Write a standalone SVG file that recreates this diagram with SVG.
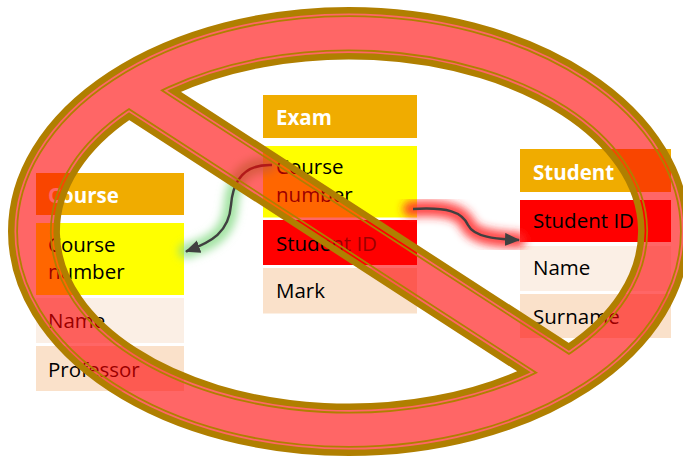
<svg xmlns="http://www.w3.org/2000/svg" xmlns:xlink="http://www.w3.org/1999/xlink" width="683" height="459" viewBox="0 0 683 459">
  <style>
    .hdr { fill: #F0AC00; }
    .key { fill: #FFFF00; }
    .pk  { fill: #FF0000; }
    .lt  { fill: #FBEFE5; }
    .pc  { fill: #FAE1CA; }
    text { font-family: "Open Sans", "Noto Sans", "Liberation Sans", sans-serif; font-size: 20.5px; fill: #000; }
    text.ht { font-weight: bold; fill: #FFFFFF; }
    .wire { fill: none; stroke: #404040; stroke-width: 2.5; marker-end: url(#head); }
    .glow { fill: none; stroke-linecap: round; filter: url(#soft); }
  </style>
  <defs>
    <marker id="head" markerUnits="userSpaceOnUse" markerWidth="16" markerHeight="14" refX="14" refY="6.5" orient="auto">
      <path d="M0,0 L15,6.5 L0,13 Z" fill="#404040"/>
    </marker>
    <filter id="soft" x="-30%" y="-30%" width="160%" height="160%">
      <feGaussianBlur stdDeviation="4.5"/>
    </filter>
    <!-- prohibition sign: ellipse ring with a diagonal bar (two holes) -->
    <path id="sign" d="M13,231.5 A336,219.5 0 1 1 685,231.5 A336,219.5 0 1 1 13,231.5 Z
                       M170.37,90.91 A294,177 0 0 1 568.89,349 Z
                       M527.63,372.09 A294,177 0 0 1 129.11,114 Z"/>
    <clipPath id="signClip">
      <use xlink:href="#sign" clip-rule="evenodd"/>
    </clipPath>
    <!-- cuts a thin line into the outline, just inside the edge -->
    <mask id="gap" maskUnits="userSpaceOnUse" x="-10" y="-10" width="703" height="479">
      <rect x="-10" y="-10" width="703" height="479" fill="#FFFFFF"/>
      <use xlink:href="#sign" fill="none" stroke="#000000" stroke-width="6.4" clip-path="url(#signClip)"/>
      <use xlink:href="#sign" fill="none" stroke="#FFFFFF" stroke-width="3"/>
    </mask>
  </defs>

  <g id="course">
    <rect class="hdr" x="36" y="173" width="148" height="42"/>
    <text class="ht" x="48" y="202.5">Course</text>
    <rect class="key" x="36" y="223" width="148" height="72"/>
    <text x="48" y="251.5">Course</text>
    <text x="48" y="279">number</text>
    <rect class="lt" x="36" y="298" width="148" height="45"/>
    <text x="48" y="327.5">Name</text>
    <rect class="pc" x="36" y="346" width="148" height="45"/>
    <text x="48" y="376.5">Professor</text>
  </g>

  <g id="exam">
    <rect class="hdr" x="263" y="95" width="154" height="43"/>
    <text class="ht" x="276" y="124.5">Exam</text>
    <rect class="key" x="263" y="146" width="154" height="71.5"/>
    <text x="276" y="174">Course</text>
    <text x="276" y="202">number</text>
    <rect class="pk" x="263" y="220" width="154" height="45"/>
    <text x="276" y="250.5">Student ID</text>
    <rect class="pc" x="263" y="268" width="154" height="45.5"/>
    <text x="276" y="298">Mark</text>
  </g>

  <g id="student">
    <rect class="hdr" x="520" y="149" width="151" height="43"/>
    <text class="ht" x="533" y="179.5">Student</text>
    <rect class="pk" x="520" y="200" width="151" height="42"/>
    <text x="533" y="227.5">Student ID</text>
    <rect class="lt" x="520" y="246" width="151" height="45"/>
    <text x="533" y="275">Name</text>
    <rect class="pc" x="520" y="294" width="151" height="44"/>
    <text x="533" y="324">Surname</text>
  </g>

  <g id="connectors">
    <path class="glow" d="M268,165 C245,164 233,180 231,205 C229,232 214,243 186,251" stroke="#8CDC8C" stroke-opacity="0.8" stroke-width="15"/>
    <path class="glow" d="M411,209 C448,207 462,212 468,225 C474,237 495,239 518,240" stroke="#FF2A2A" stroke-opacity="0.85" stroke-width="16"/>
    <path class="wire" d="M272,165 C245,164 233,180 231,205 C229,232 212,242 186,251.5"/>
    <path class="wire" d="M413,209 C448,207 462,212 468,225 C474,237 495,239 519,240"/>
  </g>

  <g id="no-sign">
    <use xlink:href="#sign" fill="#FF0000" fill-opacity="0.6" fill-rule="evenodd"/>
    <use xlink:href="#sign" fill="none" stroke="#B07F00" stroke-width="10" stroke-linejoin="miter" mask="url(#gap)"/>
  </g>
</svg>
